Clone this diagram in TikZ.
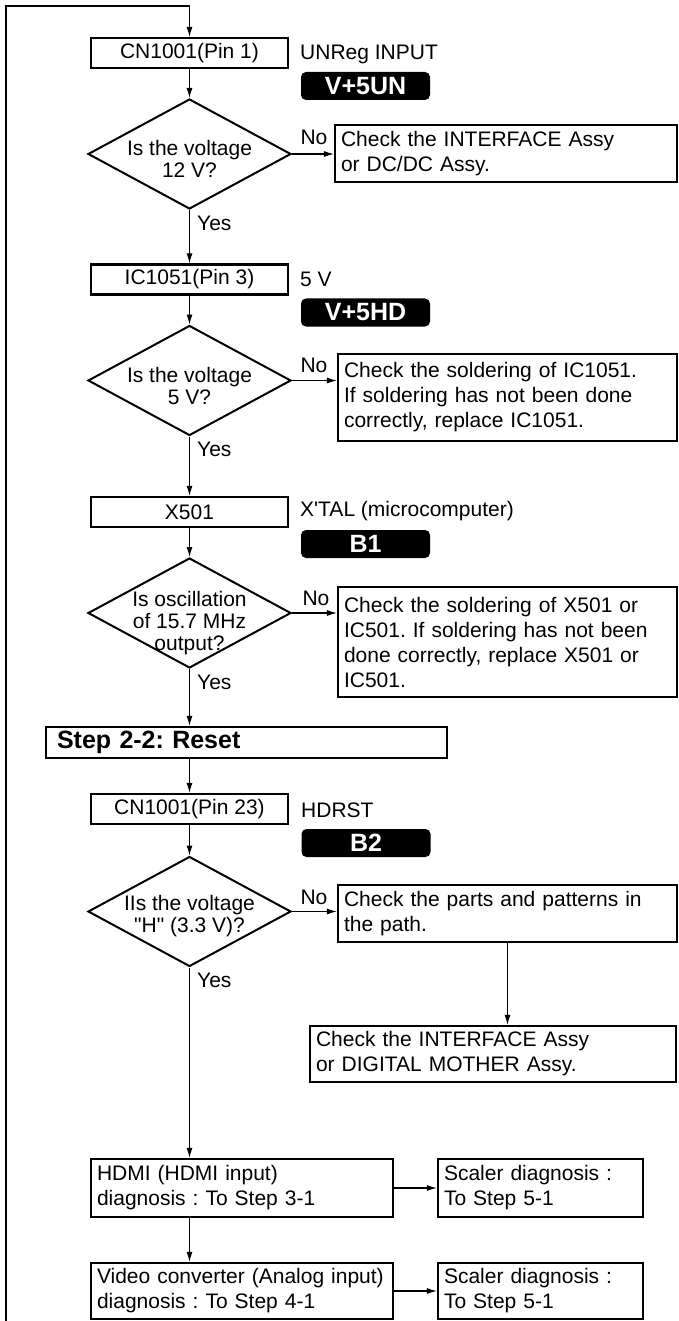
\documentclass[tikz,border=0pt]{standalone}
\usepackage{fontspec}
\setmainfont{Liberation Sans}
\usetikzlibrary{arrows.meta,shapes.geometric}

\begin{document}
\frenchspacing
\begin{tikzpicture}[
    x=1pt,y=-1pt,
    font=\fontsize{21}{25}\selectfont,
    box/.style={draw,line width=2.2pt,minimum width=197pt,minimum height=30pt,inner sep=0pt,align=center},
    chk/.style={draw,line width=2.2pt,inner xsep=6pt,inner ysep=0pt,align=left,text width=#1},
    stepbox/.style={draw,line width=2.2pt,minimum height=31pt,inner xsep=11pt,inner ysep=0pt,text width=379pt,align=left,font=\fontsize{25}{25}\selectfont\bfseries},
    dia/.style={draw,diamond,line width=2pt,minimum width=203pt,minimum height=110pt,inner sep=0pt},
    qtext/.style={align=center,inner sep=0pt,font=\fontsize{21}{22}\selectfont,yshift=-5pt},
    badge/.style={fill=black,rounded corners=5pt,minimum width=129pt,minimum height=28pt,inner sep=0pt,text=white,font=\fontsize{25}{25}\selectfont\bfseries},
    note/.style={anchor=west,inner sep=0pt},
    tag/.style={inner sep=0pt},
    arr/.style={-{Latex[length=10pt,width=6pt]},line width=1.1pt}
  ]
    \useasboundingbox (0,0) rectangle (679,1321);

    \node[box] (cnin) at (189.5,53) {CN1001(Pin 1)};
    \node[note] (unreg) at (300,54) {UNReg INPUT};
    \node[badge] (vun) at (365.5,86) {V+5UN};
    \node[dia,label={[qtext]center:{Is the voltage\\12 V?}}] (q12) at (189.5,154) {};
    \node[chk=330pt,minimum height=57pt] (chk1) at (506,153.5) {Check the INTERFACE Assy\\or DC/DC Assy.};
    \node[tag] (no1) at (314,137) {No};
    \node[tag,anchor=west] (yes1) at (197,223) {Yes};

    \node[box] (ic) at (189.5,279.5) {IC1051(Pin 3)};
    \node[note] (fivev) at (300,279) {5 V};
    \node[badge] (vhd) at (365.5,312.5) {V+5HD};
    \node[dia,label={[qtext]center:{Is the voltage\\5 V?}}] (q5) at (189.5,380.5) {};
    \node[chk=327pt,minimum height=87pt] (chk2) at (507.5,397.5) {Check the soldering of IC1051.\\If soldering has not been done\\correctly, replace IC1051.};
    \node[tag] (no2) at (314,365) {No};
    \node[tag,anchor=west] (yes2) at (197,449) {Yes};

    \node[box] (xtal) at (189.5,512) {X501};
    \node[note] (xtallbl) at (300,511) {X\textquotesingle TAL (microcomputer)};
    \node[badge] (b1) at (365.5,544) {B1};
    \node[dia,label={[qtext,yshift=-5pt]center:{Is oscillation\\of 15.7 MHz\\output?}}] (qosc) at (189.5,613) {};
    \node[chk=327pt,minimum height=110pt] (chk3) at (507.5,642) {Check the soldering of X501 or\\IC501. If soldering has not been\\done correctly, replace X501 or\\IC501.};
    \node[tag] (no3) at (316,598) {No};
    \node[tag,anchor=west] (yes3) at (197,682) {Yes};

    \node[stepbox] (step) at (246.5,742.5) {Step 2-2: Reset};

    \node[box] (cnrst) at (189.5,809) {CN1001(Pin 23)};
    \node[note] (hdrst) at (301,810) {HDRST};
    \node[badge] (b2) at (366,843) {B2};
    \node[dia,label={[qtext]center:{IIs the voltage\\\textquotedbl H\textquotedbl{} (3.3 V)?}}] (qrst) at (189.5,911.5) {};
    \node[chk=327pt,minimum height=57pt] (chk4) at (507.5,913.5) {Check the parts and patterns in\\the path.};
    \node[tag] (no4) at (314,897) {No};
    \node[tag,anchor=west] (yes4) at (197,980) {Yes};
    \node[chk=354pt,minimum height=56pt] (chk5) at (493,1054) {Check the INTERFACE Assy\\or DIGITAL MOTHER Assy.};

    \node[chk=290pt,minimum height=58pt] (hdmi) at (242,1188) {HDMI (HDMI input)\\diagnosis : To Step 3-1};
    \node[chk=193pt,minimum height=58pt] (scl1) at (540.5,1188) {Scaler diagnosis :\\To Step 5-1};
    \node[chk=290pt,minimum height=56pt] (video) at (242,1291) {Video converter (Analog input)\\diagnosis : To Step 4-1};
    \node[chk=193pt,minimum height=56pt] (scl2) at (540.5,1291) {Scaler diagnosis :\\To Step 5-1};

    \coordinate (loopbot) at (6,1321);
    \coordinate (looptop) at (6,6);
    \draw[arr] (loopbot) -- (looptop) -| (cnin.north);

    \draw[arr] (cnin) -- (q12);
    \draw[arr] (q12.east) -- (q12.east -| chk1.west);
    \draw[arr] (q12) -- (ic);
    \draw[arr] (ic) -- (q5);
    \draw[arr] (q5.east) -- (q5.east -| chk2.west);
    \draw[arr] (q5) -- (xtal);
    \draw[arr] (xtal) -- (qosc);
    \draw[arr] (qosc.east) -- (qosc.east -| chk3.west);
    \draw[arr] (qosc.south) -- (qosc.south |- step.north);
    \draw[arr] (qosc.south |- step.south) -- (cnrst.north);
    \draw[arr] (cnrst) -- (qrst);
    \draw[arr] (qrst.east) -- (qrst.east -| chk4.west);
    \draw[arr] (chk4.south) -- (chk4.south |- chk5.north);
    \draw[arr] (qrst.south) -- (qrst.south |- hdmi.north);
    \draw[arr] (hdmi.east) -- (scl1.west);
    \draw[arr] (qrst.south |- hdmi.south) -- (qrst.south |- video.north);
    \draw[arr] (video.east) -- (scl2.west);
  \end{tikzpicture}
\end{document}
